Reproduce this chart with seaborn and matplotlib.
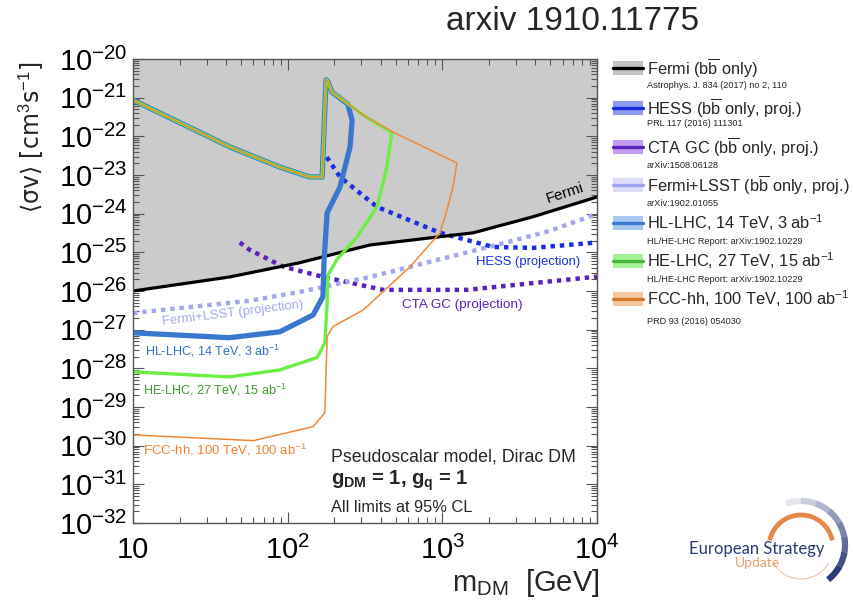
import numpy as np
import matplotlib
matplotlib.use("Agg")
import matplotlib.pyplot as plt
import seaborn as sns
from matplotlib.patches import Rectangle, Arc
from matplotlib.ticker import FixedLocator, NullFormatter

# limits: m_DM [GeV], <sigma v> [cm^3 s^-1]
fermi_m = [10, 42, 120, 340, 1585, 3850, 10000]
fermi_s = [1.0e-26, 2.3e-26, 5.4e-26, 1.55e-25, 3.2e-25, 8.3e-25, 2.7e-24]

hess_m = [179, 218, 378, 966, 2125, 3850, 10000]
hess_s = [2.9e-23, 8.9e-24, 1.5e-24, 3.2e-25, 1.38e-25, 1.3e-25, 1.8e-25]

cta_m = [49, 57, 93, 167, 413, 1442, 3850, 10000]
cta_s = [1.8e-25, 1.15e-25, 4.3e-26, 2.35e-26, 1.07e-26, 1.07e-26, 1.6e-26, 2.35e-26]

lsst_m = [10, 57, 120, 340, 832, 2255, 4965, 10000]
lsst_s = [2.7e-27, 5.6e-27, 9.5e-27, 2.3e-26, 5.7e-26, 1.56e-25, 3.6e-25, 9.9e-25]

# collider curves (lower branch, then back along the shared upper envelope)
hl_m = [10, 42, 89, 146, 169, 172, 180, 218, 253, 261, 245,
        193, 182, 177, 167, 139, 89, 42, 10]
hl_s = [8.3e-28, 6.2e-28, 8.8e-28, 2.4e-27, 7.1e-27, 6.4e-26, 1.05e-24, 4.9e-24, 5.3e-23, 2.6e-22, 6.8e-22,
        1.4e-21, 2.6e-21, 2.9e-21, 8.9e-24, 8.9e-24, 1.6e-23, 5.4e-23, 8.7e-22]

he_m = [10, 42, 89, 155, 174, 180, 182, 208, 281, 378, 438, 472,
        307, 242, 193, 182, 177, 167, 139, 89, 42, 10]
he_s = [8.1e-29, 6.0e-29, 9.1e-29, 1.9e-28, 4.6e-28, 5.0e-27, 2.6e-26, 6.5e-26, 2.5e-25, 1.5e-24, 1.6e-23, 1.25e-22,
        3.55e-22, 7.3e-22, 1.4e-21, 2.6e-21, 2.9e-21, 8.9e-24, 8.9e-24, 1.6e-23, 5.4e-23, 8.7e-22]

fcc_m = [10, 60, 146, 174, 180, 196, 307, 617, 966, 1072, 1172, 1243,
         832, 479, 307, 242, 193, 182, 177, 167, 139, 89, 42, 10]
fcc_s = [1.9e-30, 1.35e-30, 3.1e-30, 7.1e-30, 6.6e-28, 1.2e-27, 3.2e-27, 4.2e-26, 3.2e-25, 1.26e-24, 4.9e-24, 2.05e-23,
         4.45e-23, 1.3e-22, 3.55e-22, 7.3e-22, 1.4e-21, 2.6e-21, 2.9e-21, 8.9e-24, 8.9e-24, 1.6e-23, 5.4e-23, 8.7e-22]

# legend entries
leg_labels = ["Fermi (b$\\overline{\\mathrm{b}}$ only)",
              "HESS (b$\\overline{\\mathrm{b}}$ only, proj.)",
              "CTA GC (b$\\overline{\\mathrm{b}}$ only, proj.)",
              "Fermi+LSST (b$\\overline{\\mathrm{b}}$ only, proj.)",
              "HL-LHC, 14 TeV, 3 ab$^{-1}$",
              "HE-LHC, 27 TeV, 15 ab$^{-1}$",
              "FCC-hh, 100 TeV, 100 ab$^{-1}$"]
leg_refs = ["Astrophys. J. 834 (2017) no 2, 110",
            "PRL 117 (2016) 111301",
            "arXiv:1508.06128",
            "arXiv:1902.01055",
            "HL/HE-LHC Report: arXiv:1902.10229",
            "HL/HE-LHC Report: arXiv:1902.10229",
            "PRD 93 (2016) 054030"]
leg_line = ["black", "#1a2fd8", "#5a22b8", "#a0a4ee", "#3a78d0", "#48b838", "#d8772e"]
leg_band = ["#c4c4c4", "#8c9af0", "#c49cf0", "#dcdcf8", "#a8c8f2", "#a4f296", "#f6c8a0"]

sns.set_style("ticks")
plt.rcParams['font.family'] = ['Liberation Sans', 'DejaVu Sans']
plt.rcParams['mathtext.fontset'] = 'custom'
plt.rcParams['mathtext.rm'] = 'Liberation Sans'
plt.rcParams['mathtext.it'] = 'Liberation Sans:italic'
plt.rcParams['mathtext.bf'] = 'Liberation Sans:bold'

fig = plt.figure(figsize=(8.54, 6.05), dpi=100)
ax = fig.add_axes([133 / 854, 1 - 523 / 605, 464 / 854, 464 / 605])
ax.set_xscale('log')
ax.set_yscale('log')

# Fermi exclusion (grey region above the line)
ax.fill_between(fermi_m, fermi_s, 1e-20, color='#cbcbcb', lw=0, zorder=0)

def curve(m, s, **kw):
    sns.lineplot(x=m, y=s, ax=ax, sort=False, estimator=None, **kw)

dots = dict(linestyle=(0, (1, 1.1)), dash_capstyle='butt')
curve(cta_m, cta_s, color='#5a22b8', lw=3.2, **dots)
curve(lsst_m, lsst_s, color='#a4a8f0', lw=3.2, **dots)
curve(hess_m, hess_s, color='#1a2fe0', lw=3.2, **dots)
curve(fermi_m, fermi_s, color='black', lw=2.3)
curve(hl_m, hl_s, color='#3a78d0', lw=3.8)
curve(he_m, he_s, color='#6cee44', lw=2.4)
curve(fcc_m, fcc_s, color='#f0883a', lw=1.1)

ax.set_xlim(10, 1e4)
ax.set_ylim(1e-32, 1e-20)

# curve labels
ax.text(6170, 3.3e-24, "Fermi", color='black', fontsize=11, rotation=18, ha='center', va='center')
ax.text(3570, 5.7e-26, "HESS (projection)", color='#1a2fe0', fontsize=9.4, ha='center', va='center')
ax.text(1340, 4.4e-27, "CTA GC (projection)", color='#5a22b8', fontsize=9.7, ha='center', va='center')
ax.text(44, 2.6e-27, "Fermi+LSST (projection)", color='#a4a8f0', fontsize=9.4, rotation=7, ha='center', va='center')
ax.text(12, 2.85e-28, "HL-LHC, 14 TeV, 3 ab$^{-1}$", color='#3070c8', fontsize=9, va='center')
ax.text(11.6, 2.8e-29, "HE-LHC, 27 TeV, 15 ab$^{-1}$", color='#3a9a2a', fontsize=9, va='center')
ax.text(11.6, 8.0e-31, "FCC-hh, 100 TeV, 100 ab$^{-1}$", color='#f08030', fontsize=9.5, va='center')

ax.text(0.427, 0.142, "Pseudoscalar model, Dirac DM", transform=ax.transAxes, fontsize=12.8, va='center')
ax.text(0.427, 0.092, "$\\mathbf{g}_{\\mathbf{DM}}$ = 1, $\\mathbf{g}_{\\mathbf{q}}$ = 1", transform=ax.transAxes,
        fontsize=14.5, fontweight='bold', va='center')
ax.text(0.427, 0.034, "All limits at 95% CL", transform=ax.transAxes, fontsize=11.8, va='center')

# ticks, ROOT style
xt = [10, 100, 1000, 10000]
ax.xaxis.set_major_locator(FixedLocator(xt))
ax.set_xticklabels(["10", "10$^{2}$", "10$^{3}$", "10$^{4}$"])
ax.xaxis.set_minor_locator(FixedLocator([s * 10 ** k for k in range(1, 4) for s in range(2, 10)]))
ax.xaxis.set_minor_formatter(NullFormatter())
yt = list(range(-32, -19))
ax.yaxis.set_major_locator(FixedLocator([10.0 ** k for k in yt]))
ax.set_yticklabels(["10$^{%d}$" % k for k in yt])
ax.yaxis.set_minor_locator(FixedLocator([s * 10.0 ** k for k in range(-32, -20) for s in range(2, 10)]))
ax.yaxis.set_minor_formatter(NullFormatter())
ax.tick_params(which='both', direction='in', top=True, right=True, width=0.8, colors='#555555',
               labelcolor='black', labelsize=21)
ax.tick_params(which='major', length=8)
ax.tick_params(which='minor', length=4)
ax.tick_params(axis='y', which='major', pad=4)
ax.tick_params(axis='x', which='major', pad=9)
for sp in ax.spines.values():
    sp.set_color('#555555')
    sp.set_linewidth(1.0)

fig.text(31 / 854, 1 - 62 / 605, "⟨σv⟩ [cm$^{3}$s$^{-1}$]", rotation=90,
         ha='center', va='top', fontsize=17, family=['DejaVu Sans'])
fig.text(600 / 854, 1 - 583 / 605, "m$_{\\mathrm{DM}}$  [GeV]", ha='right', va='center', fontsize=21)
fig.text(573 / 854, 1 - 22 / 605, "arxiv 1910.11775", ha='center', va='center', fontsize=24)

# overlay in pixel coordinates for legend and logo
lax = fig.add_axes([0, 0, 1, 1])
lax.set_xlim(0, 854)
lax.set_ylim(605, 0)
lax.axis('off')

main_y = [68, 108, 147, 185, 223, 261, 299]
ref_y = [85, 123, 165, 203, 242, 280, 321]
for lab, ref, lc, bc, y1, y2 in zip(leg_labels, leg_refs, leg_line, leg_band, main_y, ref_y):
    lax.add_patch(Rectangle((613, y1 - 7), 30, 14, facecolor=bc, edgecolor='none'))
    lax.plot([613, 643], [y1, y1], color=lc, lw=2.4)
    lax.text(647, y1, lab, fontsize=11.8, va='center', ha='left')
    lax.text(647, y2, ref, fontsize=6.6, va='center', ha='left')

# European Strategy Update logo
lax.add_patch(Arc((801, 547), 64, 64, theta1=-168, theta2=-12, color='#e8874a', lw=3.4))
lax.add_patch(Arc((801, 547), 64, 64, theta1=30, theta2=150, color='#f2c4a4', lw=0.8))
navy = sns.blend_palette(['#e4e6ee', '#2a3a78'], 8)
for i, c in enumerate(navy):
    lax.add_patch(Arc((801, 545), 88, 88, theta1=-110 + i * 20, theta2=-88 + i * 20, color=c, lw=4.5))
lax.text(757, 549, "European Strategy", fontsize=12, color='#2b3b73', ha='center', va='center', family='Lato')
lax.text(757, 563, "Update", fontsize=10, color='#e89a68', ha='center', va='center', family='Lato')

fig.savefig("out.png", dpi=100)
